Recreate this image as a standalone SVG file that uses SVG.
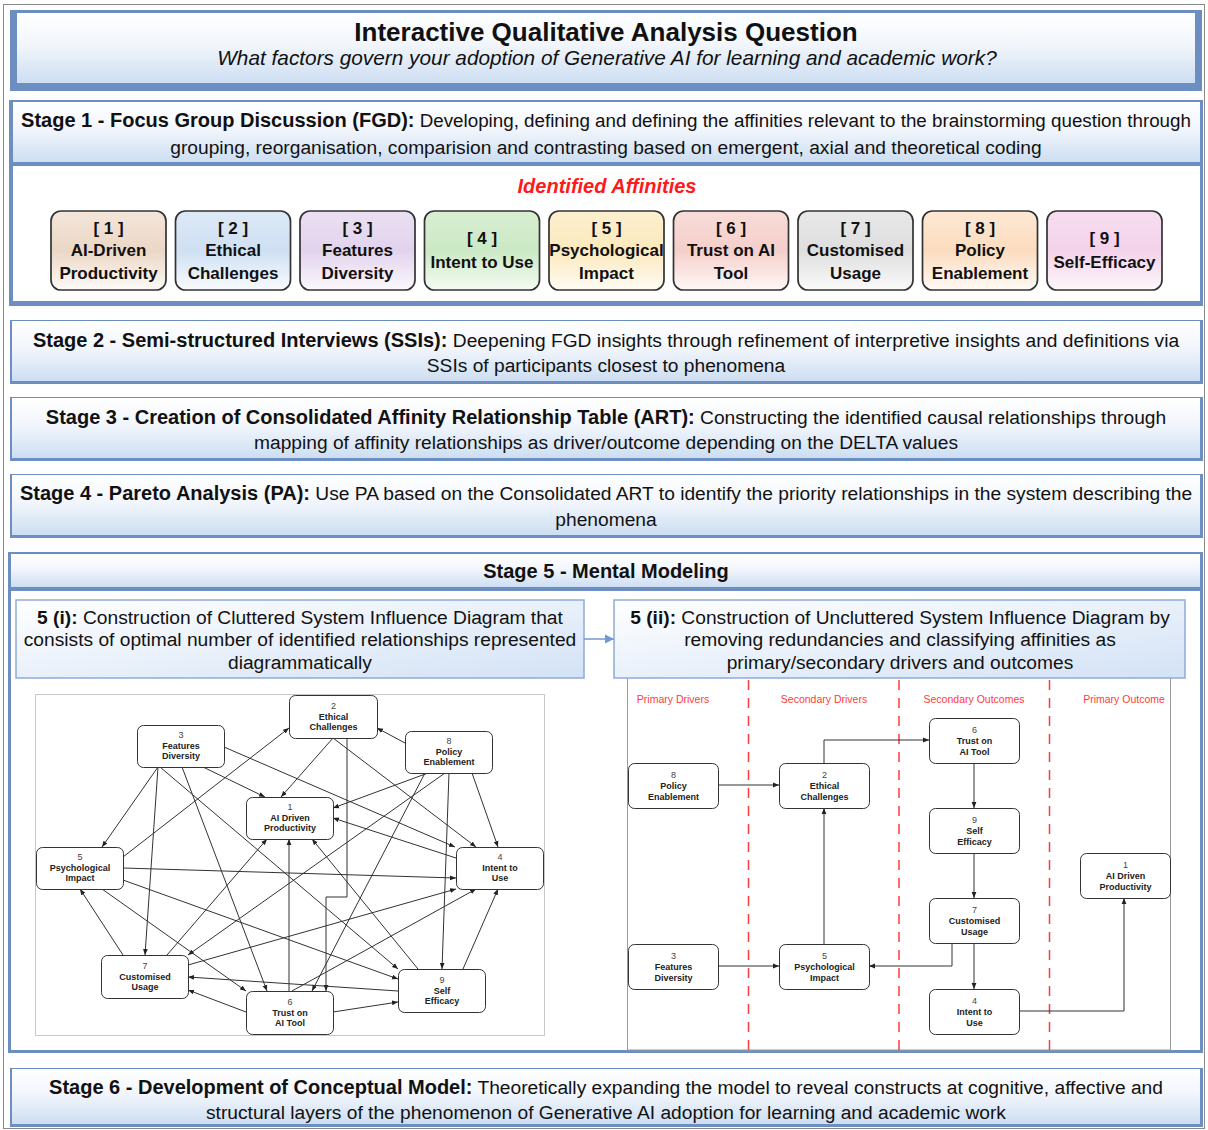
<svg xmlns="http://www.w3.org/2000/svg" width="1208" height="1130" viewBox="0 0 1208 1130">
<defs>
  <linearGradient id="gPanel" x1="0" y1="0" x2="0" y2="1">
    <stop offset="0" stop-color="#ffffff"/>
    <stop offset="0.45" stop-color="#f2f6fc"/>
    <stop offset="1" stop-color="#cddef2"/>
  </linearGradient>
  <linearGradient id="gSub" x1="0" y1="0" x2="1" y2="1">
    <stop offset="0" stop-color="#ffffff"/>
    <stop offset="1" stop-color="#d3e2f6"/>
  </linearGradient>
  <linearGradient id="a1" x1="0" y1="0" x2="0" y2="1"><stop offset="0" stop-color="#f3e6db"/><stop offset="0.5" stop-color="#ebd7c5"/><stop offset="1" stop-color="#fdfaf7"/></linearGradient>
  <linearGradient id="a2" x1="0" y1="0" x2="0" y2="1"><stop offset="0" stop-color="#dde9f6"/><stop offset="0.5" stop-color="#cfe0f3"/><stop offset="1" stop-color="#f8fbfe"/></linearGradient>
  <linearGradient id="a3" x1="0" y1="0" x2="0" y2="1"><stop offset="0" stop-color="#ebe0f2"/><stop offset="0.5" stop-color="#e2d3ed"/><stop offset="1" stop-color="#fbf8fd"/></linearGradient>
  <linearGradient id="a4" x1="0" y1="0" x2="0" y2="1"><stop offset="0" stop-color="#d9efd3"/><stop offset="0.5" stop-color="#cbe9c4"/><stop offset="1" stop-color="#f6fbf4"/></linearGradient>
  <linearGradient id="a5" x1="0" y1="0" x2="0" y2="1"><stop offset="0" stop-color="#fdf0cf"/><stop offset="0.5" stop-color="#fce9bd"/><stop offset="1" stop-color="#fffcf4"/></linearGradient>
  <linearGradient id="a6" x1="0" y1="0" x2="0" y2="1"><stop offset="0" stop-color="#f8dcd9"/><stop offset="0.5" stop-color="#f5cfca"/><stop offset="1" stop-color="#fef8f7"/></linearGradient>
  <linearGradient id="a7" x1="0" y1="0" x2="0" y2="1"><stop offset="0" stop-color="#e8e8e8"/><stop offset="0.5" stop-color="#dedede"/><stop offset="1" stop-color="#fafafa"/></linearGradient>
  <linearGradient id="a8" x1="0" y1="0" x2="0" y2="1"><stop offset="0" stop-color="#fde8d3"/><stop offset="0.5" stop-color="#fcdcbf"/><stop offset="1" stop-color="#fffaf5"/></linearGradient>
  <linearGradient id="a9" x1="0" y1="0" x2="0" y2="1"><stop offset="0" stop-color="#f7def0"/><stop offset="0.5" stop-color="#f3d2ea"/><stop offset="1" stop-color="#fdf7fb"/></linearGradient>
  <marker id="ah" viewBox="0 0 10 10" refX="10" refY="5" markerWidth="6" markerHeight="6" markerUnits="userSpaceOnUse" orient="auto">
    <path d="M0,1 L10,5 L0,9 z" fill="#222"/>
  </marker>
  <marker id="ahBlue" viewBox="0 0 10 10" refX="10" refY="5" markerWidth="9" markerHeight="10" markerUnits="userSpaceOnUse" orient="auto">
    <path d="M0,0 L10,5 L0,10 z" fill="#6f98d6"/>
  </marker>
</defs>
<style>
  text { font-family: "Liberation Sans", Arial, sans-serif; fill: #111; }
  .frame { fill: #6d8ec0; }
  .panel { fill: url(#gPanel); }
  .white { fill: #ffffff; }
  .hd { font-size: 20px; font-weight: bold; }
  .body { font-size: 19.2px; }
  .b { font-weight: bold; }
  .aff rect { stroke: #333; stroke-width: 1.7; }
  .aff text { font-size: 17px; font-weight: bold; text-anchor: middle; }
  .sub { fill: url(#gSub); stroke: #8eaad8; stroke-width: 1.5; }
  .node rect { fill: #ffffff; stroke: #333; stroke-width: 1; }
  .node text { font-size: 9px; text-anchor: middle; fill: #222; }
  .node .n { font-weight: normal; fill: #444; }
  .node .l { font-weight: bold; }
  .edge { fill: none; stroke: #333; stroke-width: 1; marker-end: url(#ah); }
  .lane { stroke: #ff3b3b; stroke-width: 1.5; stroke-dasharray: 10 8; }
  .laneLbl { font-size: 10.5px; fill: #ff3b3b; text-anchor: middle; }
</style>

<!-- page border -->
<rect x="3.5" y="4.5" width="1201" height="1124" fill="#ffffff" stroke="#8a8a8a" stroke-width="1"/>

<!-- question header -->
<g id="title">
  <rect class="frame" x="10" y="10" width="1192" height="81"/>
  <rect class="panel" x="17" y="13" width="1178" height="70"/>
  <text x="606" y="32" text-anchor="middle" dominant-baseline="central" font-size="26" font-weight="bold">Interactive Qualitative Analysis Question</text>
  <text x="607" y="57" text-anchor="middle" dominant-baseline="central" font-size="20.8" font-style="italic">What factors govern your adoption of Generative AI for learning and academic work?</text>
</g>

<!-- stage 1 -->
<g id="stage1">
  <rect class="frame" x="9" y="100" width="1194" height="206"/>
  <rect class="panel" x="13" y="102" width="1187" height="60"/>
  <rect class="white" x="13" y="166" width="1187" height="135"/>
  <text x="606" y="120" text-anchor="middle" dominant-baseline="central" font-size="18.8"><tspan class="hd">Stage 1 - Focus Group Discussion (FGD):</tspan> Developing, defining and defining the affinities relevant to the brainstorming question through</text>
  <text x="606" y="147" text-anchor="middle" dominant-baseline="central" class="body">grouping, reorganisation, comparision and contrasting based on emergent, axial and theoretical coding</text>
  <text x="607" y="186" text-anchor="middle" dominant-baseline="central" font-size="20" font-weight="bold" font-style="italic" style="fill:#ff1a1a">Identified Affinities</text>
</g>

<!-- affinities -->
<g id="aff1" class="aff"><rect x="51" y="211" width="115" height="79" rx="10" fill="url(#a1)"/><text x="108.5" y="228" dominant-baseline="central">[ 1 ]</text><text x="108.5" y="250" dominant-baseline="central">AI-Driven</text><text x="108.5" y="273" dominant-baseline="central">Productivity</text></g>
<g id="aff2" class="aff"><rect x="175.5" y="211" width="115" height="79" rx="10" fill="url(#a2)"/><text x="233" y="228" dominant-baseline="central">[ 2 ]</text><text x="233" y="250" dominant-baseline="central">Ethical</text><text x="233" y="273" dominant-baseline="central">Challenges</text></g>
<g id="aff3" class="aff"><rect x="300" y="211" width="115" height="79" rx="10" fill="url(#a3)"/><text x="357.5" y="228" dominant-baseline="central">[ 3 ]</text><text x="357.5" y="250" dominant-baseline="central">Features</text><text x="357.5" y="273" dominant-baseline="central">Diversity</text></g>
<g id="aff4" class="aff"><rect x="424.5" y="211" width="115" height="79" rx="10" fill="url(#a4)"/><text x="482" y="238" dominant-baseline="central">[ 4 ]</text><text x="482" y="262" dominant-baseline="central">Intent to Use</text></g>
<g id="aff5" class="aff"><rect x="549" y="211" width="115" height="79" rx="10" fill="url(#a5)"/><text x="606.5" y="228" dominant-baseline="central">[ 5 ]</text><text x="606.5" y="250" dominant-baseline="central">Psychological</text><text x="606.5" y="273" dominant-baseline="central">Impact</text></g>
<g id="aff6" class="aff"><rect x="673.5" y="211" width="115" height="79" rx="10" fill="url(#a6)"/><text x="731" y="228" dominant-baseline="central">[ 6 ]</text><text x="731" y="250" dominant-baseline="central">Trust on AI</text><text x="731" y="273" dominant-baseline="central">Tool</text></g>
<g id="aff7" class="aff"><rect x="798" y="211" width="115" height="79" rx="10" fill="url(#a7)"/><text x="855.5" y="228" dominant-baseline="central">[ 7 ]</text><text x="855.5" y="250" dominant-baseline="central">Customised</text><text x="855.5" y="273" dominant-baseline="central">Usage</text></g>
<g id="aff8" class="aff"><rect x="922.5" y="211" width="115" height="79" rx="10" fill="url(#a8)"/><text x="980" y="228" dominant-baseline="central">[ 8 ]</text><text x="980" y="250" dominant-baseline="central">Policy</text><text x="980" y="273" dominant-baseline="central">Enablement</text></g>
<g id="aff9" class="aff"><rect x="1047" y="211" width="115" height="79" rx="10" fill="url(#a9)"/><text x="1104.5" y="238" dominant-baseline="central">[ 9 ]</text><text x="1104.5" y="262" dominant-baseline="central">Self-Efficacy</text></g>

<!-- stage 2 -->
<g id="stage2">
  <rect class="frame" x="10" y="320" width="1193" height="64"/>
  <rect class="panel" x="12" y="321" width="1188" height="60"/>
  <text x="606" y="340" text-anchor="middle" dominant-baseline="central" class="body"><tspan class="hd">Stage 2 - Semi-structured Interviews (SSIs):</tspan> Deepening FGD insights through refinement of interpretive insights and definitions via</text>
  <text x="606" y="365" text-anchor="middle" dominant-baseline="central" class="body">SSIs of participants closest to phenomena</text>
</g>

<!-- stage 3 -->
<g id="stage3">
  <rect class="frame" x="10" y="397" width="1193" height="64"/>
  <rect class="panel" x="12" y="398" width="1188" height="60"/>
  <text x="606" y="417" text-anchor="middle" dominant-baseline="central" class="body"><tspan class="hd">Stage 3 - Creation of Consolidated Affinity Relationship Table (ART):</tspan>  Constructing the identified causal relationships through</text>
  <text x="606" y="442" text-anchor="middle" dominant-baseline="central" class="body">mapping of affinity relationships as driver/outcome depending on the DELTA values</text>
</g>

<!-- stage 4 -->
<g id="stage4">
  <rect class="frame" x="10" y="474" width="1193" height="64"/>
  <rect class="panel" x="12" y="475" width="1188" height="60"/>
  <text x="606" y="493" text-anchor="middle" dominant-baseline="central" class="body"><tspan class="hd">Stage 4 - Pareto Analysis (PA):</tspan> Use PA based on the Consolidated ART to identify the priority relationships in the system describing the</text>
  <text x="606" y="519" text-anchor="middle" dominant-baseline="central" class="body">phenomena</text>
</g>

<!-- stage 5 -->
<g id="stage5">
  <rect class="frame" x="8" y="552" width="1195" height="501"/>
  <rect class="panel" x="11" y="554" width="1189" height="33"/>
  <rect class="white" x="11" y="591" width="1189" height="459"/>
  <text x="606" y="571" text-anchor="middle" dominant-baseline="central" class="hd">Stage 5 - Mental Modeling</text>
</g>

<!-- cluttered diagram canvas -->
<rect x="35.5" y="694.5" width="509" height="341" fill="#ffffff" stroke="#c8c8c8" stroke-width="1"/>
<!-- uncluttered diagram canvas -->
<rect x="627.5" y="676" width="543" height="374" fill="#ffffff" stroke="#9a9a9a" stroke-width="1"/>

<g id="step5i">
  <rect class="sub" x="16" y="600" width="568" height="78"/>
  <text x="300" y="617" text-anchor="middle" dominant-baseline="central" class="body"><tspan class="b">5 (i):</tspan> Construction of Cluttered System Influence Diagram that</text>
  <text x="300" y="639" text-anchor="middle" dominant-baseline="central" class="body">consists of optimal number of identified relationships represented</text>
  <text x="300" y="662" text-anchor="middle" dominant-baseline="central" class="body">diagrammatically</text>
</g>
<g id="step5ii">
  <rect class="sub" x="614" y="600" width="571" height="78"/>
  <text x="900" y="617" text-anchor="middle" dominant-baseline="central" class="body"><tspan class="b">5 (ii):</tspan> Construction of Uncluttered System Influence Diagram by</text>
  <text x="900" y="639" text-anchor="middle" dominant-baseline="central" class="body">removing redundancies and classifying affinities as</text>
  <text x="900" y="662" text-anchor="middle" dominant-baseline="central" class="body">primary/secondary drivers and outcomes</text>
</g>
<line x1="584" y1="639" x2="614" y2="639" stroke="#6f98d6" stroke-width="1.5" marker-end="url(#ahBlue)"/>

<!-- lanes of the uncluttered diagram -->
<g id="lanes">
  <line class="lane" x1="748.5" y1="680" x2="748.5" y2="1050"/>
  <line class="lane" x1="899" y1="680" x2="899" y2="1050"/>
  <line class="lane" x1="1049.5" y1="680" x2="1049.5" y2="1050"/>
  <text class="laneLbl" x="673" y="699" dominant-baseline="central">Primary Drivers</text>
  <text class="laneLbl" x="824" y="699" dominant-baseline="central">Secondary Drivers</text>
  <text class="laneLbl" x="974" y="699" dominant-baseline="central">Secondary Outcomes</text>
  <text class="laneLbl" x="1124" y="699" dominant-baseline="central">Primary Outcome</text>
</g>

<!-- connectors -->
<g id="connectors">
  <!-- cluttered system influence diagram -->
  <line class="edge" x1="158" y1="767" x2="102" y2="847"/>
  <line class="edge" x1="158" y1="767" x2="145" y2="955"/>
  <line class="edge" x1="182" y1="767" x2="267" y2="991"/>
  <line class="edge" x1="160" y1="767" x2="398" y2="969"/>
  <line class="edge" x1="203" y1="767" x2="265" y2="797"/>
  <line class="edge" x1="224" y1="747" x2="455" y2="847"/>
  <line class="edge" x1="333" y1="738" x2="281" y2="797"/>
  <line class="edge" x1="333" y1="738" x2="476" y2="847"/>
  <polyline class="edge" points="347,738 347,897 326,897 326,991"/>
  <line class="edge" x1="405" y1="743" x2="377" y2="728"/>
  <line class="edge" x1="428" y1="773" x2="333" y2="808"/>
  <line class="edge" x1="445" y1="773" x2="188" y2="955"/>
  <line class="edge" x1="425" y1="773" x2="312" y2="991"/>
  <line class="edge" x1="449" y1="773" x2="442" y2="969"/>
  <line class="edge" x1="472" y1="773" x2="498" y2="847"/>
  <line class="edge" x1="456" y1="858" x2="333" y2="818"/>
  <line class="edge" x1="123" y1="857" x2="289" y2="728"/>
  <line class="edge" x1="123" y1="868" x2="456" y2="878"/>
  <line class="edge" x1="123" y1="880" x2="398" y2="979"/>
  <line class="edge" x1="102" y1="889" x2="246" y2="991"/>
  <line class="edge" x1="123" y1="955" x2="80" y2="889"/>
  <line class="edge" x1="167" y1="955" x2="267" y2="839"/>
  <line class="edge" x1="188" y1="965" x2="456" y2="889"/>
  <line class="edge" x1="398" y1="991" x2="188" y2="977"/>
  <line class="edge" x1="246" y1="1012" x2="188" y2="990"/>
  <line class="edge" x1="333" y1="1012" x2="398" y2="1002"/>
  <line class="edge" x1="289" y1="991" x2="289" y2="839"/>
  <line class="edge" x1="292" y1="991" x2="476" y2="889"/>
  <line class="edge" x1="418" y1="969" x2="312" y2="839"/>
  <line class="edge" x1="463" y1="969" x2="498" y2="889"/>
  <!-- uncluttered system influence diagram -->
  <line class="edge" x1="718" y1="785" x2="779" y2="785"/>
  <polyline class="edge" points="824,763 824,740 929,740"/>
  <line class="edge" x1="974" y1="763" x2="974" y2="808"/>
  <line class="edge" x1="974" y1="853" x2="974" y2="898"/>
  <line class="edge" x1="974" y1="943" x2="974" y2="989"/>
  <polyline class="edge" points="952,943 952,966 869,966"/>
  <line class="edge" x1="824" y1="944" x2="824" y2="808"/>
  <line class="edge" x1="718" y1="966" x2="779" y2="966"/>
  <polyline class="edge" points="1019,1011 1124,1011 1124,898"/>
</g>

<!-- cluttered diagram nodes -->
<g id="c2" class="node"><rect x="289.5" y="695.5" width="88" height="43" rx="6"/><text class="n" x="333.5" y="706" dominant-baseline="central">2</text><text class="l" x="333.5" y="716.5" dominant-baseline="central">Ethical</text><text class="l" x="333.5" y="727" dominant-baseline="central">Challenges</text></g>
<g id="c3" class="node"><rect x="137.5" y="725.5" width="87" height="42" rx="6"/><text class="n" x="181" y="735" dominant-baseline="central">3</text><text class="l" x="181" y="745.5" dominant-baseline="central">Features</text><text class="l" x="181" y="756" dominant-baseline="central">Diversity</text></g>
<g id="c8" class="node"><rect x="405.5" y="731.5" width="87" height="42" rx="6"/><text class="n" x="449" y="741" dominant-baseline="central">8</text><text class="l" x="449" y="751.5" dominant-baseline="central">Policy</text><text class="l" x="449" y="762" dominant-baseline="central">Enablement</text></g>
<g id="c1" class="node"><rect x="246.5" y="797.5" width="87" height="42" rx="6"/><text class="n" x="290" y="807" dominant-baseline="central">1</text><text class="l" x="290" y="817.5" dominant-baseline="central">AI Driven</text><text class="l" x="290" y="828" dominant-baseline="central">Productivity</text></g>
<g id="c5" class="node"><rect x="36.5" y="847.5" width="87" height="42" rx="6"/><text class="n" x="80" y="857" dominant-baseline="central">5</text><text class="l" x="80" y="867.5" dominant-baseline="central">Psychological</text><text class="l" x="80" y="878" dominant-baseline="central">Impact</text></g>
<g id="c4" class="node"><rect x="456.5" y="847.5" width="87" height="42" rx="6"/><text class="n" x="500" y="857" dominant-baseline="central">4</text><text class="l" x="500" y="867.5" dominant-baseline="central">Intent to</text><text class="l" x="500" y="878" dominant-baseline="central">Use</text></g>
<g id="c7" class="node"><rect x="101.5" y="955.5" width="87" height="43" rx="6"/><text class="n" x="145" y="966" dominant-baseline="central">7</text><text class="l" x="145" y="976.5" dominant-baseline="central">Customised</text><text class="l" x="145" y="987" dominant-baseline="central">Usage</text></g>
<g id="c6" class="node"><rect x="246.5" y="991.5" width="87" height="43" rx="6"/><text class="n" x="290" y="1002" dominant-baseline="central">6</text><text class="l" x="290" y="1012.5" dominant-baseline="central">Trust on</text><text class="l" x="290" y="1023" dominant-baseline="central">AI Tool</text></g>
<g id="c9" class="node"><rect x="398.5" y="969.5" width="87" height="43" rx="6"/><text class="n" x="442" y="980" dominant-baseline="central">9</text><text class="l" x="442" y="990.5" dominant-baseline="central">Self</text><text class="l" x="442" y="1001" dominant-baseline="central">Efficacy</text></g>

<!-- uncluttered diagram nodes -->
<g id="u8" class="node"><rect x="628.5" y="763.5" width="90" height="45" rx="6"/><text class="n" x="673.5" y="775" dominant-baseline="central">8</text><text class="l" x="673.5" y="786" dominant-baseline="central">Policy</text><text class="l" x="673.5" y="797" dominant-baseline="central">Enablement</text></g>
<g id="u2" class="node"><rect x="779.5" y="763.5" width="90" height="45" rx="6"/><text class="n" x="824.5" y="775" dominant-baseline="central">2</text><text class="l" x="824.5" y="786" dominant-baseline="central">Ethical</text><text class="l" x="824.5" y="797" dominant-baseline="central">Challenges</text></g>
<g id="u6" class="node"><rect x="929.5" y="718.5" width="90" height="45" rx="6"/><text class="n" x="974.5" y="730" dominant-baseline="central">6</text><text class="l" x="974.5" y="741" dominant-baseline="central">Trust on</text><text class="l" x="974.5" y="752" dominant-baseline="central">AI Tool</text></g>
<g id="u9" class="node"><rect x="929.5" y="808.5" width="90" height="45" rx="6"/><text class="n" x="974.5" y="820" dominant-baseline="central">9</text><text class="l" x="974.5" y="831" dominant-baseline="central">Self</text><text class="l" x="974.5" y="842" dominant-baseline="central">Efficacy</text></g>
<g id="u7" class="node"><rect x="929.5" y="898.5" width="90" height="45" rx="6"/><text class="n" x="974.5" y="910" dominant-baseline="central">7</text><text class="l" x="974.5" y="921" dominant-baseline="central">Customised</text><text class="l" x="974.5" y="932" dominant-baseline="central">Usage</text></g>
<g id="u4" class="node"><rect x="929.5" y="989.5" width="90" height="45" rx="6"/><text class="n" x="974.5" y="1001" dominant-baseline="central">4</text><text class="l" x="974.5" y="1012" dominant-baseline="central">Intent to</text><text class="l" x="974.5" y="1023" dominant-baseline="central">Use</text></g>
<g id="u1" class="node"><rect x="1080.5" y="853.5" width="90" height="45" rx="6"/><text class="n" x="1125.5" y="865" dominant-baseline="central">1</text><text class="l" x="1125.5" y="876" dominant-baseline="central">AI Driven</text><text class="l" x="1125.5" y="887" dominant-baseline="central">Productivity</text></g>
<g id="u3" class="node"><rect x="628.5" y="944.5" width="90" height="45" rx="6"/><text class="n" x="673.5" y="956" dominant-baseline="central">3</text><text class="l" x="673.5" y="967" dominant-baseline="central">Features</text><text class="l" x="673.5" y="978" dominant-baseline="central">Diversity</text></g>
<g id="u5" class="node"><rect x="779.5" y="944.5" width="90" height="45" rx="6"/><text class="n" x="824.5" y="956" dominant-baseline="central">5</text><text class="l" x="824.5" y="967" dominant-baseline="central">Psychological</text><text class="l" x="824.5" y="978" dominant-baseline="central">Impact</text></g>

<!-- stage 6 -->
<g id="stage6">
  <rect class="frame" x="10" y="1068" width="1193" height="59"/>
  <rect class="panel" x="12" y="1069" width="1188" height="55"/>
  <text x="606" y="1087" text-anchor="middle" dominant-baseline="central" class="body"><tspan class="hd">Stage 6 - Development of Conceptual Model:</tspan> Theoretically expanding the model to reveal constructs at cognitive, affective and</text>
  <text x="606" y="1112" text-anchor="middle" dominant-baseline="central" class="body">structural layers of the phenomenon of Generative AI adoption for learning and academic work</text>
</g>
</svg>
